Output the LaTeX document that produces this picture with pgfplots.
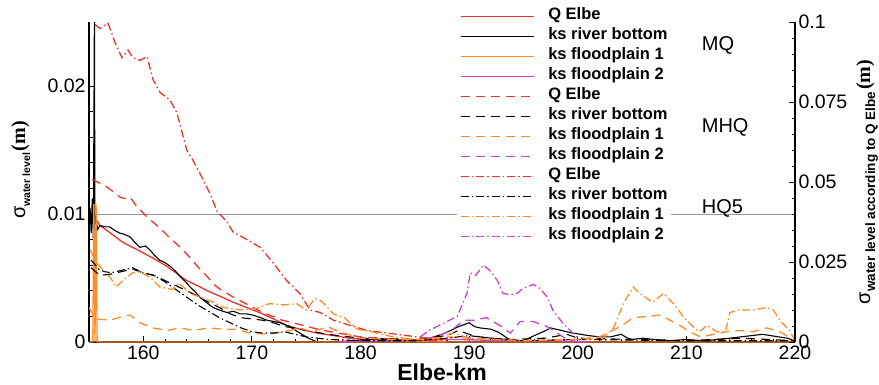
\documentclass[border=0pt]{standalone}
\usepackage{pgfplots}
\pgfplotsset{compat=1.18}
\usepackage{fontspec}
\setmainfont{Liberation Sans}
\newfontfamily\serifb{Liberation Serif}
\definecolor{cred}{RGB}{232,52,48}
\definecolor{corange}{RGB}{255,140,40}
\definecolor{cpurple}{RGB}{200,70,200}
\definecolor{cgray}{RGB}{150,150,150}
\begin{document}
\begin{tikzpicture}
\path[use as bounding box] (0,0) rectangle (879pt,384pt);
\pgfplotsset{
  common/.style={
    at={(89pt,42pt)}, anchor=south west, scale only axis,
    width=706pt, height=320pt, xmin=155, xmax=220,
    scaled y ticks=false, scaled x ticks=false,
    tick align=inside, major tick length=6pt, minor tick length=3.5pt,
    axis line style={line width=1.1pt},
    every tick/.style={black, line width=0.9pt},
    ticklabel style={font=\fontsize{19.5}{19.5}\selectfont},
    /pgf/number format/assume math mode=true,
  },
  ddash/.style={dash pattern=on 9pt off 6pt},
  ddot/.style={dash pattern=on 8pt off 3pt on 1.5pt off 3pt},
}
\begin{axis}[common,
  ymin=0, ymax=0.025,
  axis x line*=bottom, axis y line*=left,
  xtick={160,170,180,190,200,210,220},
  xticklabels={160,170,180,190,200,210,220},
  minor x tick num=4,
  ytick={0,0.01,0.02}, yticklabels={0,0.01,0.02},
  minor y tick num=4,
  legend cell align=left,
  legend image code/.code={\draw[#1] (0pt,0pt) -- (73pt,0pt);},
  legend style={at={(0.521,1.056)}, anchor=north west, draw=none, fill=white,
    font=\bfseries\fontsize{16.5}{20}\selectfont, row sep=0pt,
    inner xsep=3pt, inner ysep=2pt,
    nodes={inner sep=0pt, text height=13pt, text depth=7pt},
    /tikz/every odd column/.append style={column sep=14pt}},
]
\addplot[cgray, line width=0.7pt, forget plot] coordinates {(155,0.01) (220,0.01)};
% MQ solid
\addplot[cred, line width=1.3pt] coordinates {
(155.5,0.0098) (156.0,0.0091) (157.0,0.0085) (158.1,0.0078) (159.0,0.0074) (159.7,0.0071)
(161.0,0.0065) (162.2,0.0059) (163.0,0.0054) (164.0,0.0048) (165.0,0.0044) (165.9,0.0040)
(167.0,0.0036) (168.3,0.0031) (169.5,0.0027) (170.7,0.0023) (172.0,0.0018) (173.2,0.0013)
(174.4,0.0010) (176.0,0.0007) (177.5,0.0005) (179.0,0.0003) (180.6,0.0002) (183.6,0.0001)
(186.4,0.00005) (188,0.0)};
\addlegendentry{Q Elbe}
\addplot[black, line width=1.1pt] coordinates {
(155.0,0.0095) (155.1,0.0105) (155.2,0.0085) (155.3,0.0112) (155.4,0.0080) (155.5,0.026)
(155.55,0.0070) (155.65,0.0095) (155.8,0.0088) (156.0,0.0091) (156.5,0.0090) (156.9,0.0090)
(157.4,0.0087) (157.85,0.0085) (158.3,0.0084) (158.8,0.0082) (159.2,0.0078) (159.7,0.0074)
(160.2,0.0075) (160.6,0.0072) (161.0,0.0068) (161.5,0.0064) (162.0,0.0062) (162.5,0.0059)
(163.0,0.0055) (163.4,0.0051) (163.9,0.0047) (164.3,0.0043) (164.8,0.0039) (165.2,0.0035)
(165.8,0.0031) (166.4,0.0027) (167.0,0.0025) (167.7,0.0023) (168.3,0.0024) (168.9,0.0022)
(169.5,0.0022) (170.1,0.0021) (170.8,0.0019) (171.4,0.0017) (172.0,0.0016) (172.6,0.0015)
(173.5,0.0012) (174.4,0.0007) (175.2,0.0003) (176.0,0.0) (178,0.0) (179,0.0001) (181,0.0002)
(183,0.0002) (185,0.0001) (186,0.0002) (187.5,0.0006) (188.3,0.0009) (189,0.0012) (190,0.0015)
(190.5,0.0012) (191,0.0011) (192,0.0010) (192.6,0.0008) (193,0.0006) (194,0.0) (195,0.0001)
(196,0.0005) (196.8,0.0008) (197.5,0.0011) (198.5,0.0009) (199.5,0.0007) (200.3,0.0006)
(201,0.0005) (202,0.0004) (203,0.0004) (204,0.0006) (204.6,0.0003) (205,0.0002) (206,0.0003)
(207,0.0002) (208.5,0.0001) (210,0.0002) (211.5,0.0001) (213,0.0002) (214,0.0003) (215,0.0004)
(216,0.0005) (217,0.0006) (218.5,0.0004) (219.3,0.0003) (220,0.0001)};
\addlegendentry{ks river bottom}
\addplot[corange, line width=1.3pt] coordinates {
(155.0,0.0) (155.35,0.0) (155.45,0.0108) (155.55,0.0) (155.65,0.0108) (155.75,0.0) (220,0.0)};
\addlegendentry{ks floodplain 1}
\addplot[cpurple, line width=1.3pt] coordinates {
(178,0.0) (183,0.0001) (186,0.0002) (189,0.0002) (193,0.0001) (198,0.0001) (201,0.0)};
\addlegendentry{ks floodplain 2}
% MHQ dashed
\addplot[cred, line width=1.3pt, ddash] coordinates {
(155.3,0.0127) (155.8,0.0125) (156.5,0.0122) (157.3,0.0117) (157.9,0.0113) (158.4,0.0112)
(158.8,0.0113) (159.3,0.0107) (160.3,0.0098) (161.4,0.0090) (162.5,0.0081) (163.4,0.0074)
(164.3,0.0066) (165.1,0.0058) (165.9,0.0051) (166.5,0.0045) (167.1,0.0041) (168.3,0.0035)
(169.2,0.0031) (170.1,0.0027) (171.0,0.0023) (171.9,0.0020) (172.8,0.0017) (173.8,0.0015)
(175.6,0.0011) (177.2,0.0008) (180.0,0.0004) (183.6,0.0002) (187.3,0.0001)};
\addlegendentry{Q Elbe}
\addplot[black, line width=1.1pt, ddash] coordinates {
(155.2,0.0058) (156,0.0052) (157,0.0053) (158,0.0055) (159,0.0057) (160,0.0054) (161,0.0052)
(162,0.0048) (163,0.0044) (164,0.0040) (165,0.0036) (166,0.0031) (167,0.0027) (168,0.0022)
(169,0.0019) (170,0.0018) (171,0.0017) (172,0.0015) (173,0.0012) (174,0.0011) (175,0.0009)
(177,0.0006) (180,0.0003) (185,0.0002) (188,0.0005) (189,0.0009) (190,0.0006) (191,0.0004)
(192,0.0003) (194,0.0002) (197,0.0003) (199,0.0006) (200,0.0003) (205,0.0002) (210,0.0001)
(215,0.0003) (220,0.0001)};
\addlegendentry{ks river bottom}
\addplot[corange, line width=1.3pt, ddash] coordinates {
(155.0,0.0027) (155.6,0.0018) (156.9,0.0017) (158.1,0.0020) (158.8,0.0021) (159.7,0.0015)
(160.9,0.0011) (162.2,0.0009) (163.4,0.0011) (164.6,0.0009) (166,0.0011) (167.3,0.0010)
(168.5,0.0010) (169.8,0.0007) (171.6,0.0006) (173.5,0.0009) (174.4,0.0011) (175.5,0.0008)
(177,0.0012) (178,0.0008) (180,0.0003) (183,0.0002) (186,0.0002) (188,0.0004) (190,0.0003)
(195,0.0001) (200,0.0002) (202,0.0004) (203.9,0.0012) (205.1,0.0019) (206.4,0.0020)
(207.6,0.0021) (208.5,0.0017) (209.4,0.0013) (210.3,0.0008) (211.3,0.0004) (212.5,0.0006)
(213.7,0.0008) (214.9,0.0009) (216.1,0.0008) (217.4,0.0011) (218.6,0.0008) (219.8,0.0002)};
\addlegendentry{ks floodplain 1}
\addplot[cpurple, line width=1.3pt, ddash] coordinates {
(186,0.0002) (187.5,0.0006) (188.5,0.0010) (189.5,0.0017) (190.4,0.0017) (191.6,0.0019)
(192.8,0.0013) (193.8,0.0007) (194.7,0.0016) (195.9,0.0016) (197.2,0.0012) (198.1,0.0007)
(199,0.0002) (200,0.0)};
\addlegendentry{ks floodplain 2}
% HQ5 dash-dot
\addplot[cred, line width=1.3pt, ddot] coordinates {
(155.55,0.0248) (156.0,0.0245) (156.75,0.0249) (157.4,0.0234) (158.04,0.0222) (158.6,0.0228)
(159.05,0.0222) (159.7,0.0220) (160.34,0.0223) (160.9,0.0205) (161.54,0.0195) (162.46,0.0189)
(163.1,0.0179) (164.0,0.0150) (164.58,0.0142) (165.5,0.0127) (166.14,0.0116) (166.8,0.0102)
(167.7,0.0094) (168.26,0.0086) (169.55,0.0080) (170.75,0.0074) (171.94,0.0062) (173.2,0.0048)
(174.4,0.0038) (175.35,0.0025) (176.3,0.0023) (177.5,0.0017) (180.6,0.0009) (185.2,0.0004)
(188,0.0001)};
\addlegendentry{Q Elbe}
\addplot[black, line width=1.1pt, ddot] coordinates {
(155.2,0.0064) (156,0.0056) (157,0.0054) (158,0.0056) (159,0.0058) (160,0.0054) (161,0.0052)
(162,0.0047) (163,0.0041) (164,0.0035) (165,0.0029) (166,0.0024) (167,0.0019) (168,0.0015)
(169,0.0011) (170,0.0008) (171,0.0007) (172,0.0007) (173,0.0008) (174,0.0006) (175,0.0004)
(177,0.0002) (180,0.0001) (185,0.0001) (188,0.0003) (190,0.0005) (192,0.0003) (195,0.0001)
(200,0.0002) (210,0.0001) (220,0.0001)};
\addlegendentry{ks river bottom}
\addplot[corange, line width=1.3pt, ddot] coordinates {
(155.1,0.0072) (155.6,0.0064) (156.0,0.0059) (157.0,0.0050) (157.5,0.0043) (158.1,0.0048)
(159.0,0.0054) (159.7,0.0055) (160.7,0.0050) (161.5,0.0043) (162.7,0.0041) (163.3,0.0046)
(164.3,0.0038) (165.2,0.0035) (166.2,0.0032) (167.4,0.0027) (168.9,0.0025) (170.4,0.0026)
(171.6,0.0030) (172.9,0.0029) (174.1,0.0030) (175.0,0.0025) (175.8,0.0034) (176.4,0.0032)
(177.5,0.0022) (178.5,0.0019) (179.7,0.0010) (181,0.0008) (183,0.0004) (185,0.0002)
(187,0.0003) (188.5,0.0007) (190,0.0003) (195,0.0001) (200,0.0002) (202.3,0.0003)
(203.3,0.0011) (204.2,0.0030) (205.1,0.0043) (205.7,0.0038) (206.9,0.0031) (207.9,0.0038)
(208.8,0.0030) (209.7,0.0020) (210.6,0.0012) (211.2,0.0008) (211.9,0.0013) (212.8,0.0008)
(213.6,0.0008) (214.0,0.0023) (214.9,0.0025) (216.1,0.0025) (217.4,0.0027) (218.0,0.0025)
(218.6,0.0017) (219.5,0.0009) (220,0.0001)};
\addlegendentry{ks floodplain 1}
\addplot[cpurple, line width=1.3pt, ddot] coordinates {
(185.5,0.0004) (186.3,0.0009) (188.9,0.0020) (189.8,0.0038) (190.1,0.0054) (190.6,0.0052)
(191.3,0.0060) (191.9,0.0056) (192.6,0.0048) (193.1,0.0038) (193.8,0.0037) (194.4,0.0038)
(195.0,0.0042) (195.9,0.0045) (196.5,0.0042) (197.2,0.0035) (197.7,0.0025) (198.6,0.0015)
(199.3,0.0009) (200.2,0.0002)};
\addlegendentry{ks floodplain 2}
\node[anchor=west, font=\fontsize{20}{20}\selectfont] at (axis cs:211.1,0.0232) {MQ};
\node[anchor=west, font=\fontsize{20}{20}\selectfont] at (axis cs:211.1,0.0168) {MHQ};
\node[anchor=west, font=\fontsize{20}{20}\selectfont] at (axis cs:211.1,0.01047) {HQ5};
\end{axis}
\begin{axis}[common,
  ymin=0, ymax=0.1,
  axis x line=none, axis y line*=right,
  ytick={0,0.025,0.05,0.075,0.1}, yticklabels={0,0.025,0.05,0.075,0.1},
  minor y tick num=4,
]
\addplot[draw=none, forget plot] coordinates {(155,0) (220,0)};
\end{axis}
\node[font=\bfseries\fontsize{23}{23}\selectfont, anchor=base] at (442pt,4pt) {Elbe-km};
\node[rotate=90, anchor=base] at (25pt,214pt) {{\fontsize{20}{20}\selectfont σ}\raisebox{-5pt}{\bfseries\fontsize{10.5}{10.5}\selectfont water level}\,{\serifb\bfseries\fontsize{20}{20}\selectfont (m)}};
\node[rotate=90, anchor=base] at (870pt,202pt) {{\fontsize{20}{20}\selectfont σ}\raisebox{-5pt}{\bfseries\fontsize{13.5}{13.5}\selectfont water level according to Q Elbe}\,{\serifb\bfseries\fontsize{20}{20}\selectfont (m)}};
\end{tikzpicture}
\end{document}
